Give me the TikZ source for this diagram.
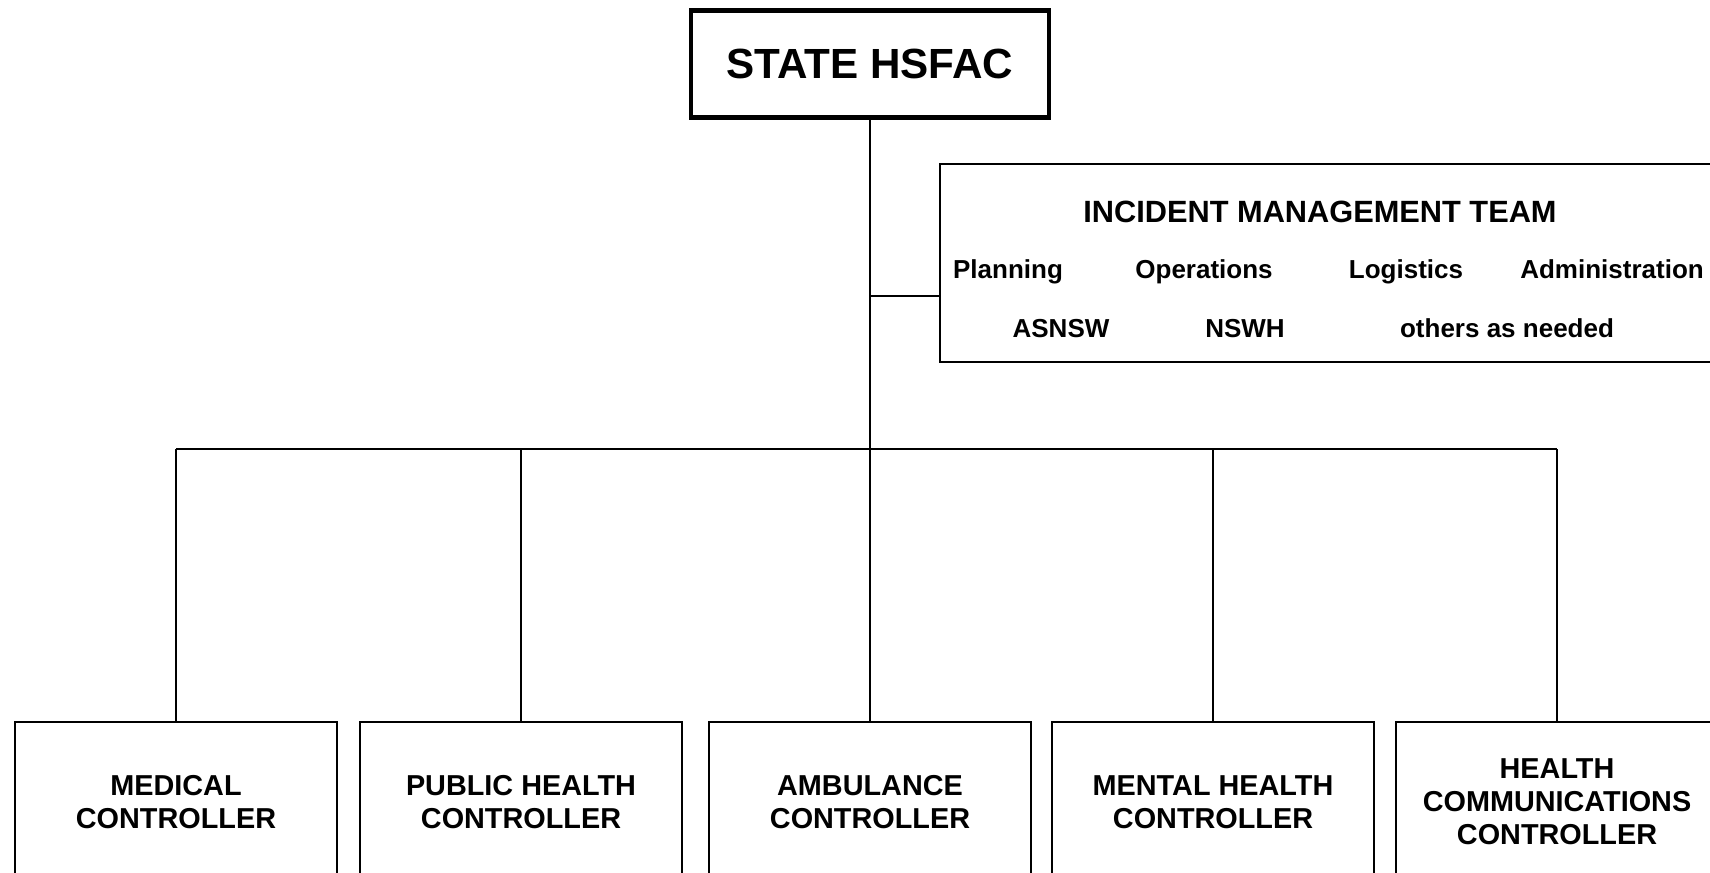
\documentclass[tikz,border=0pt]{standalone}
\usepackage{fontspec}
\setmainfont{Liberation Sans}
\tikzset{every path/.style={black, line width=0.8pt},
  topbox/.style={draw, line width=1.3pt, minimum width=3.58cm, minimum height=1.07cm, inner sep=0pt, font=\fontsize{12}{14}\selectfont\bfseries},
  teambox/.style={draw, minimum width=7.80cm, minimum height=1.98cm, inner sep=0pt},
  teamtext/.style={inner sep=0pt, anchor=base, font=\fontsize{7.4}{9}\selectfont\bfseries},
  ctrlbox/.style={draw, minimum width=3.22cm, minimum height=1.60cm, inner sep=0pt, align=center, font=\fontsize{8.2}{9.4}\selectfont\bfseries}}

\begin{document}
\begin{tikzpicture}
   \useasboundingbox (0,0) rectangle (17.10,-8.72);
   % top
   \node[topbox] (hsfac) at (8.70,-0.64) {STATE HSFAC};
   % incident management team
   \node[teambox] (imt) at (13.30,-2.63) {};
   \node[teamtext, font=\fontsize{8.75}{11}\selectfont\bfseries] (imttitle) at (13.20,-2.22) {INCIDENT MANAGEMENT TEAM};
   \node[teamtext] (plan) at (10.08,-2.78) {Planning};
   \node[teamtext] (oper) at (12.04,-2.78) {Operations};
   \node[teamtext] (logi) at (14.06,-2.78) {Logistics};
   \node[teamtext] (admn) at (16.12,-2.78) {Administration};
   \node[teamtext] (asnsw) at (10.61,-3.37) {ASNSW};
   \node[teamtext] (nswh) at (12.45,-3.37) {NSWH};
   \node[teamtext] (other) at (15.07,-3.37) {others as needed};
   \coordinate (imtlink) at (9.40,-2.96);
   % controllers
   \node[ctrlbox] (med)  at ( 1.76,-8.02) {MEDICAL\\CONTROLLER};
   \node[ctrlbox] (pub)  at ( 5.21,-8.02) {PUBLIC HEALTH\\CONTROLLER};
   \node[ctrlbox] (amb)  at ( 8.70,-8.02) {AMBULANCE\\CONTROLLER};
   \node[ctrlbox] (ment) at (12.13,-8.02) {MENTAL HEALTH\\CONTROLLER};
   \node[ctrlbox] (comm) at (15.57,-8.02) {HEALTH\\COMMUNICATIONS\\CONTROLLER};
   \coordinate (bus) at (8.70,-4.49);
   % lines
   \draw (hsfac.south) -- (hsfac.south |- amb.north);
   \draw (hsfac.south |- imtlink) -- (imtlink);
   \draw (med.north |- bus) -- (comm.north |- bus);
   \foreach \n in {med,pub,ment,comm}
     \draw (\n.north) -- (\n.north |- bus);
\end{tikzpicture}
\end{document}
